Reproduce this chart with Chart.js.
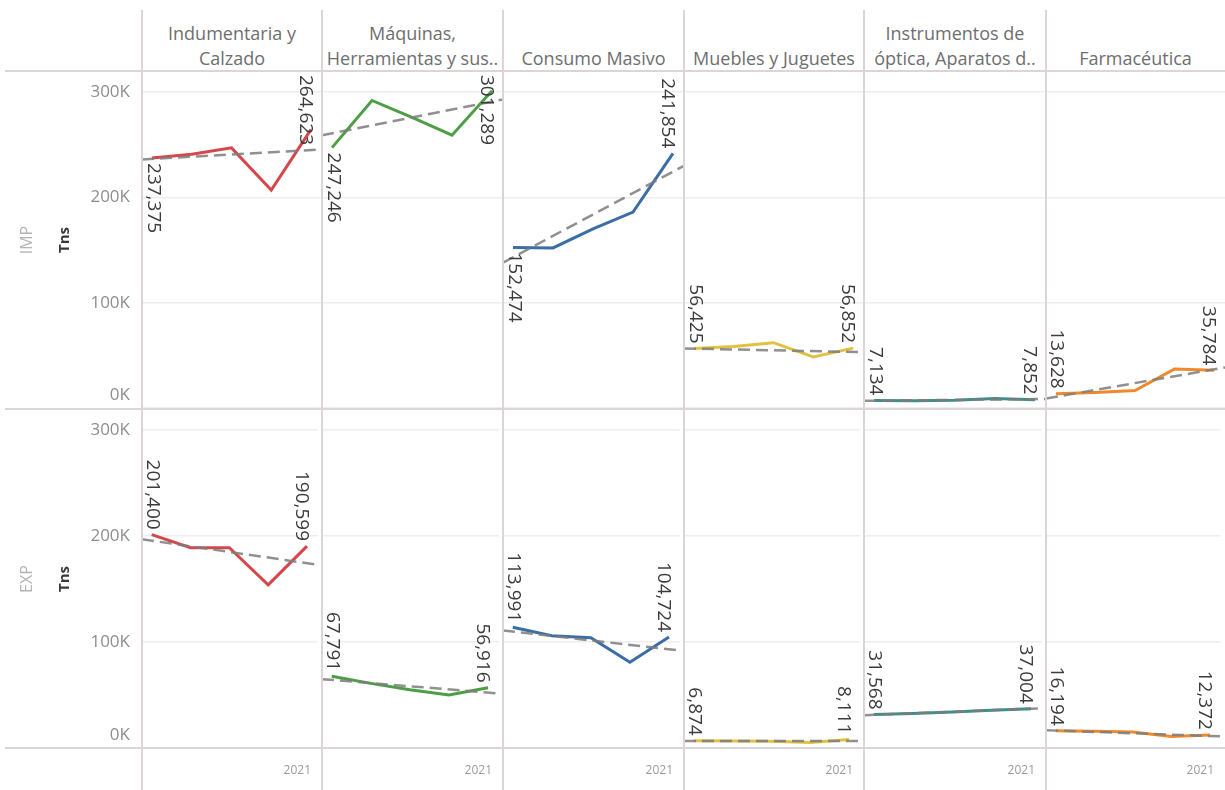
<!DOCTYPE html>
<html>
<head>
<meta charset="utf-8">
<title>IMP / EXP por rubro</title>
<script src="https://cdn.jsdelivr.net/npm/chart.js@4.4.1/dist/chart.umd.min.js"></script>
<style>
  html, body { margin: 0; padding: 0; background: #fff; }
  #wrap { position: relative; width: 1225px; height: 790px; overflow: hidden; font-family: "Open Sans", sans-serif; }
  #wrap canvas { position: absolute; }
  .hdr { position: absolute; top: 0; height: 71px; display: flex; flex-direction: column; justify-content: flex-end;
         align-items: center; color: #6e6e6e; font-size: 18px; line-height: 25px; white-space: nowrap; }
  .rule { position: absolute; background: #ddd5d5; }
  .rot { position: absolute; width: 100px; height: 22px; line-height: 22px; text-align: center; transform: rotate(-90deg); }
  .rowname { color: #b4b4b4; font-size: 16px; }
  .unit { color: #3a3a3a; font-size: 15px; font-weight: bold; }
</style>
</head>
<body>
<div id="wrap"></div>
<script>
// years on the x axis (one point per year)
const years = [2017, 2018, 2019, 2020, 2021];
const xTickValues = [2021];

// column headers, as shown (truncated like the original)
const categories = [
  ['Indumentaria y', 'Calzado'],
  ['Máquinas,', 'Herramientas y sus..'],
  ['Consumo Masivo'],
  ['Muebles y Juguetes'],
  ['Instrumentos de', 'óptica, Aparatos d..'],
  ['Farmacéutica']
];
const rowNames = ['IMP', 'EXP'];
const measureName = 'Tns';

// IMP (Tns)
const impIndumentaria = [237375, 241000, 247000, 207000, 264623];
const impMaquinas     = [247246, 292000, 276000, 259000, 301289];
const impConsumo      = [152474, 152000, 170000, 186000, 241854];
const impMuebles      = [56425, 58500, 62000, 48500, 56852];
const impInstrumentos = [7134, 6800, 7300, 9000, 7852];
const impFarma        = [13628, 14800, 16500, 37000, 35784];

// EXP (Tns)
const expIndumentaria = [201400, 189000, 189000, 154000, 190599];
const expMaquinas     = [67791, 61000, 55000, 50000, 56916];
const expConsumo      = [113991, 106000, 104000, 81000, 104724];
const expMuebles      = [6874, 6500, 6300, 5200, 8111];
const expInstrumentos = [31568, 32600, 34000, 35600, 37004];
const expFarma        = [16194, 15800, 15000, 10800, 12372];

// trend line values at the left and right edge of each pane
const impTrendStart = [236000, 259000, 138000, 56500, 6800, 9000];
const impTrendEnd   = [245500, 293000, 230000, 53000, 8600, 38500];
const expTrendStart = [197000, 65000, 111000, 6700, 31000, 16800];
const expTrendEnd   = [173000, 51500, 92000, 6500, 37500, 11000];

// y axis ticks
const yTicks = [0, 100000, 200000, 300000];
const yTickLabels = ['0K', '100K', '200K', '300K'];

// ---- layout / style ----
const FONT = '"Open Sans", sans-serif';
const colors = ['#d6474c', '#4c9f45', '#3b6ea5', '#e2c140', '#3d8f8c', '#ef8a2c'];
const colEdges = [142, 322, 503, 684, 864, 1046, 1225];
const rowTop = [71, 409];
const paneH = [337, 339];
const xAxisH = 42;
const xMin = 2016.75, xMax = 2021.275;
const yMax = 320000;

// label placement for first / last point of each pane
const firstPlace = [
  ['below', 'below', 'below', 'above', 'above', 'above'],
  ['above', 'above', 'above', 'above', 'above', 'above']
];
const lastPlace = [
  ['above', 'above', 'above', 'above', 'above', 'above'],
  ['above', 'above', 'above', 'above', 'above', 'above']
];

const rows = [
  { values: [impIndumentaria, impMaquinas, impConsumo, impMuebles, impInstrumentos, impFarma], ts: impTrendStart, te: impTrendEnd },
  { values: [expIndumentaria, expMaquinas, expConsumo, expMuebles, expInstrumentos, expFarma], ts: expTrendStart, te: expTrendEnd }
];

const wrap = document.getElementById('wrap');

// y tick text, clamped so the 0K label stays inside its pane
const yTickText = {
  id: 'yTickText',
  afterDraw(chart, args, opts) {
    if (!opts.show) return;
    const { ctx, chartArea, scales } = chart;
    ctx.save();
    ctx.font = '17px ' + FONT;
    ctx.fillStyle = '#8e8e8e';
    ctx.textAlign = 'right';
    ctx.textBaseline = 'middle';
    yTicks.forEach((v, i) => {
      let y = scales.y.getPixelForValue(v);
      y = Math.min(y, chartArea.bottom - 13);
      ctx.fillText(yTickLabels[i], chartArea.left - 12, y);
    });
    ctx.restore();
  }
};

// rotated value labels on first and last point
const endLabels = {
  id: 'endLabels',
  afterDatasetsDraw(chart, args, opts) {
    const pts = chart.getDatasetMeta(1).data;
    const data = chart.data.datasets[1].data;
    const { ctx, chartArea } = chart;
    ctx.save();
    ctx.font = '19px ' + FONT;
    ctx.fillStyle = '#3c3c3c';
    ctx.textBaseline = 'middle';
    ctx.textAlign = 'left';
    [[0, opts.first, 1], [pts.length - 1, opts.last, -6]].forEach(([i, place, dx]) => {
      const p = pts[i];
      const txt = data[i].y.toLocaleString('en-US');
      const w = ctx.measureText(txt).width;
      let top = place === 'below' ? p.y + 5 : p.y - 5 - w;
      top = Math.max(top, chartArea.top + 4);
      top = Math.min(top, chartArea.bottom - 4 - w);
      ctx.save();
      ctx.translate(p.x + dx, top);
      ctx.rotate(Math.PI / 2);
      ctx.fillText(txt, 0, 0);
      ctx.restore();
    });
    ctx.restore();
  }
};

rows.forEach((row, r) => {
  row.values.forEach((vals, c) => {
    const left = c === 0 ? 0 : colEdges[c];
    const width = colEdges[c + 1] - left;
    const showX = r === 1;
    const height = paneH[r] + (showX ? xAxisH : 0);
    const cv = document.createElement('canvas');
    cv.width = width;
    cv.height = height;
    cv.style.left = left + 'px';
    cv.style.top = rowTop[r] + 'px';
    wrap.appendChild(cv);

    new Chart(cv.getContext('2d'), {
      type: 'line',
      data: {
        datasets: [
          {
            // trend line, drawn on top
            data: [{ x: xMin, y: row.ts[c] }, { x: xMax, y: row.te[c] }],
            borderColor: 'rgba(125,125,125,0.85)',
            borderWidth: 2.5,
            borderDash: [12, 6],
            pointRadius: 0
          },
          {
            data: years.map((yr, i) => ({ x: yr, y: vals[i] })),
            borderColor: colors[c],
            borderWidth: 3,
            pointRadius: 0,
            tension: 0
          }
        ]
      },
      options: {
        responsive: false,
        animation: false,
        layout: { padding: { left: c === 0 ? colEdges[0] : 0, right: 0, top: 0, bottom: 0 } },
        plugins: {
          legend: { display: false },
          tooltip: { enabled: false },
          yTickText: { show: c === 0 },
          endLabels: { first: firstPlace[r][c], last: lastPlace[r][c] }
        },
        scales: {
          x: {
            type: 'linear',
            min: xMin,
            max: xMax,
            display: showX,
            grid: { display: false, drawTicks: false },
            border: { display: false },
            afterBuildTicks: (a) => { a.ticks = xTickValues.map(v => ({ value: v })); },
            afterFit: (a) => { a.height = showX ? xAxisH : 0; },
            ticks: {
              padding: 15,
              align: 'end',
              labelOffset: 4,
              maxRotation: 0,
              autoSkip: false,
              color: '#9a9a9a',
              font: { size: 12, family: FONT },
              callback: (v) => String(v)
            }
          },
          y: {
            min: 0,
            max: yMax,
            afterBuildTicks: (a) => { a.ticks = yTicks.map(v => ({ value: v })); },
            grid: { color: '#eeeeee', lineWidth: 1.5, drawTicks: false },
            border: { display: false },
            ticks: { display: false }
          }
        }
      },
      plugins: [yTickText, endLabels]
    });
  });
});

// column headers
categories.forEach((lines, c) => {
  const d = document.createElement('div');
  d.className = 'hdr';
  d.style.left = colEdges[c] + 'px';
  d.style.width = (colEdges[c + 1] - colEdges[c]) + 'px';
  lines.forEach(t => {
    const s = document.createElement('div');
    s.textContent = t;
    d.appendChild(s);
  });
  wrap.appendChild(d);
});

// row names and measure name
rowNames.forEach((name, r) => {
  const cy = rowTop[r] + paneH[r] / 2;
  const a = document.createElement('div');
  a.className = 'rot rowname';
  a.textContent = name;
  a.style.left = (26 - 50) + 'px';
  a.style.top = (cy - 11) + 'px';
  wrap.appendChild(a);
  const b = document.createElement('div');
  b.className = 'rot unit';
  b.textContent = measureName;
  b.style.left = (63 - 50) + 'px';
  b.style.top = (cy - 11) + 'px';
  wrap.appendChild(b);
});

// frame rules
function rule(x, y, w, h) {
  const d = document.createElement('div');
  d.className = 'rule';
  d.style.left = x + 'px';
  d.style.top = y + 'px';
  d.style.width = w + 'px';
  d.style.height = h + 'px';
  wrap.appendChild(d);
}
[70, 408, 747].forEach(y => rule(5, y, 1220, 2));
colEdges.slice(0, 6).forEach(x => rule(x - 1, 10, 2, 780));
</script>
</body>
</html>
